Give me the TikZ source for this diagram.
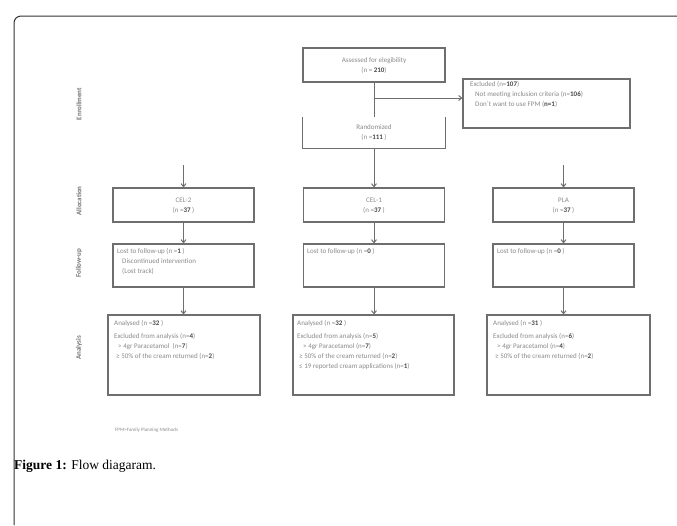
\documentclass[tikz,border=0pt]{standalone}
\usepackage{fontspec}
\setmainfont{Liberation Serif}
\newfontfamily\dgfont{Carlito}
\usetikzlibrary{arrows.meta}
\definecolor{boxgray}{HTML}{6E6E6E}
\definecolor{txtgray}{HTML}{8A8A8A}
\definecolor{numgray}{HTML}{4A4A4A}
\newcommand{\nb}[1]{{\bfseries\color{numgray}#1}}
\begin{document}
\begin{tikzpicture}[x=1pt,y=-1pt,
  frame/.style={draw=black!80, line width=1pt},
  box/.style={draw=boxgray, line width=1.2pt, inner sep=0pt, fill=none},
  conn/.style={draw=boxgray, line width=1pt, -{Straight Barb[length=3pt,width=5pt]}},
  plain/.style={draw=boxgray, line width=1pt},
  txt/.style={font=\dgfont\fontsize{7}{10}\selectfont, text=txtgray, inner sep=0pt, align=left},
  ctxt/.style={font=\dgfont\fontsize{7}{10}\selectfont, text=txtgray, inner sep=0pt, align=center},
  phase/.style={font=\dgfont\bfseries\fontsize{7}{9}\selectfont, text=black!55, rotate=90, inner sep=0pt},
  capt/.style={font=\fontsize{13.5}{16}\selectfont, text=black, inner sep=0pt}
]
\useasboundingbox (0,0) rectangle (677,525);
\fill[white] (0,0) rectangle (677,525);
% outer frame
\draw[frame, rounded corners=7pt] (677,16) -- (14,16) -- (14,525);

% enrollment
\node[box, minimum width=142pt, minimum height=34pt] (assess) at (374,65) {};
\node[ctxt] (assesst) at (374,66) {Assessed for elegibility\\(n = \nb{210})};
\node[minimum width=142pt, minimum height=31pt, inner sep=0pt] (rand) at (374,132.5) {};
\draw[box] (rand.north west) -- (rand.south west) -- (rand.south east) -- (rand.north east);
\node[ctxt] (randt) at (374,133) {Randomized\\(n =\nb{111} )};
\node[box, minimum width=167pt, minimum height=49pt] (excl) at (546.5,103.5) {};
\node[txt, anchor=north west] (exclt) at (470,81) {Excluded (n=\nb{107})\\\hspace{5pt}Not meeting inclusion criteria (n=\nb{106})\\\hspace{5pt}Don´t want to use FPM (\nb{n=1})};
\coordinate (branch) at (374,98);
\draw[plain] (assess.south) -- (rand.north);
\draw[conn] (branch) -- (branch -| excl.west);

% allocation
\node[box, minimum width=141pt, minimum height=34pt] (a2) at (183.5,205) {};
\node[box, minimum width=141pt, minimum height=34pt] (a1) at (374,205) {};
\node[box, minimum width=141pt, minimum height=34pt] (ap) at (563.5,205) {};
\node[ctxt] (a2t) at (183.5,206) {CEL-2\\(n =\nb{37} )};
\node[ctxt] (a1t) at (374,206) {CEL-1\\(n =\nb{37} )};
\node[ctxt] (apt) at (563.5,206) {PLA\\(n =\nb{37} )};
\coordinate (s2) at (183.5,165);
\coordinate (sp) at (563.5,165);
\draw[conn] (s2) -- (a2.north);
\draw[conn] (rand.south) -- (a1.north);
\draw[conn] (sp) -- (ap.north);

% follow-up
\node[box, minimum width=141pt, minimum height=43pt] (f2) at (183.5,265.5) {};
\node[box, minimum width=141pt, minimum height=43pt] (f1) at (374,265.5) {};
\node[box, minimum width=141pt, minimum height=43pt] (fp) at (563.5,265.5) {};
\node[txt, anchor=north west] (f2t) at (117,248) {Lost to follow-up (n =\nb{1} )\\\hspace{5pt}Discontinued intervention\\\hspace{5pt}(Lost track)};
\node[txt, anchor=north west] (f1t) at (307,248) {Lost to follow-up (n =\nb{0} )};
\node[txt, anchor=north west] (fpt) at (497,248) {Lost to follow-up (n =\nb{0} )};
\draw[conn] (a2.south) -- (f2.north);
\draw[conn] (a1.south) -- (f1.north);
\draw[conn] (ap.south) -- (fp.north);

% analysis
\node[box, minimum width=152pt, minimum height=80pt] (n2) at (184,355) {};
\node[box, minimum width=161pt, minimum height=80pt] (n1) at (373.5,355) {};
\node[box, minimum width=163pt, minimum height=80pt] (np) at (568.5,355) {};
\node[txt, anchor=north west] (n2t) at (114,320) {Analysed (n =\nb{32} )\\[3pt]Excluded from analysis (n=\nb{4})\\\hspace{4pt}> 4gr Paracetamol\ \ (n=\nb{7})\\\hspace{2pt}≥ 50\% of the cream returned (n=\nb{2})};
\node[txt, anchor=north west] (n1t) at (297,320) {Analysed (n =\nb{32} )\\[3pt]Excluded from analysis (n=\nb{5})\\\hspace{6pt}> 4gr Paracetamol (n=\nb{7})\\\hspace{2pt}≥ 50\% of the cream returned (n=\nb{2})\\\hspace{2pt}≤ 19 reported cream applications (n=\nb{1})};
\node[txt, anchor=north west] (npt) at (493,320) {Analysed (n =\nb{31} )\\[3pt]Excluded from analysis (n=\nb{6})\\\hspace{4pt}> 4gr Paracetamol (n=\nb{4})\\\hspace{2pt}≥ 50\% of the cream returned (n=\nb{2})};
\draw[conn] (f2.south) -- (n2.north -| f2.south);
\draw[conn] (f1.south) -- (n1.north -| f1.south);
\draw[conn] (fp.south) -- (np.north -| fp.south);

% phase labels
\node[phase] (pe) at (79,104) {Enrollment};
\node[phase] (pa) at (79,201) {Allocation};
\node[phase] (pf) at (79,263) {Follow-up};
\node[phase] (pn) at (79,348) {Analysis};

% note and caption
\node[font=\dgfont\fontsize{5}{6}\selectfont, text=txtgray, anchor=west, inner sep=0pt] (note) at (115,430) {FPM=Family Planning Methods};
\node[capt, anchor=base west] (cap) at (14,469) {\textbf{Figure 1:} Flow diagaram.};
\end{tikzpicture}
\end{document}
